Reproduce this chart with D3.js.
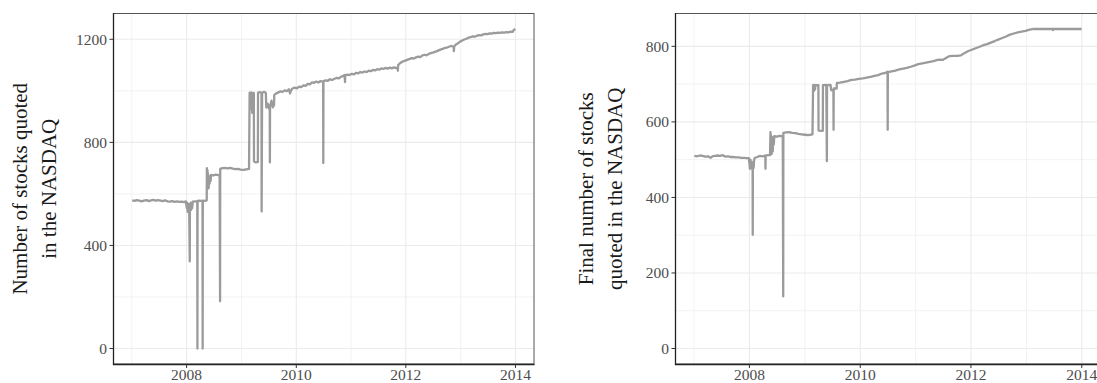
<!DOCTYPE html>
<html>
<head>
<meta charset="utf-8">
<script src="https://cdn.jsdelivr.net/npm/d3@7"></script>
<style>
  html, body { margin: 0; padding: 0; background: #fff; }
  svg { display: block; }
  .tick-label { font-family: "Liberation Serif", serif; font-size: 15.5px; fill: #4d4d4d; }
  .axis-title { font-family: "Liberation Serif", serif; font-size: 21px; fill: #1a1a1a; }
</style>
</head>
<body>
<svg id="chart" width="1097" height="383"></svg>
<script>
// Daily number of stocks quoted on the NASDAQ (left panel)
const quotedDaily = [
["2007-01-03",575],["2007-01-19",573],["2007-02-02",576],["2007-02-20",574],["2007-03-07",571],["2007-03-22",574],["2007-04-09",576],["2007-04-24",572],["2007-05-09",575],["2007-05-24",577],["2007-06-08",574],["2007-06-25",576],["2007-07-11",574],["2007-07-26",572],["2007-08-10",575],["2007-08-27",571],["2007-09-12",570],["2007-09-27",572],["2007-10-12",569],["2007-10-29",571],["2007-11-13",569],["2007-11-29",570],["2007-12-14",568],["2007-12-27",571],
["2008-01-02",545],["2008-01-04",566],["2008-01-08",530],["2008-01-10",562],["2008-01-14",540],["2008-01-16",560],["2008-01-18",548],["2008-01-22",338],["2008-01-23",552],["2008-01-28",566],["2008-01-31",538],["2008-02-04",560],["2008-02-07",545],["2008-02-11",570],["2008-02-25",571],["2008-03-12",572],["2008-03-13",0],["2008-03-14",573],["2008-03-28",574],["2008-04-16",572],["2008-04-17",0],["2008-04-18",574],["2008-05-02",573],["2008-05-14",575],["2008-05-15",700],["2008-05-16",640],["2008-05-19",692],["2008-05-20",628],["2008-05-22",680],["2008-05-27",622],["2008-05-29",670],["2008-06-02",640],["2008-06-05",666],["2008-06-09",650],["2008-06-12",674],["2008-06-26",672],["2008-07-14",675],["2008-07-29",673],["2008-08-08",674],["2008-08-11",183],["2008-08-12",697],["2008-08-26",700],["2008-09-12",701],["2008-09-30",699],["2008-10-17",701],["2008-11-04",698],["2008-11-21",696],["2008-12-09",697],["2008-12-26",694],["2009-01-14",693],["2009-02-02",695],["2009-02-20",697],
["2009-02-24",993],["2009-03-02",986],["2009-03-04",930],["2009-03-06",994],["2009-03-11",992],["2009-03-13",915],["2009-03-17",990],["2009-03-24",992],["2009-03-25",726],["2009-04-07",722],["2009-04-20",724],["2009-04-21",993],["2009-05-04",995],["2009-05-14",991],["2009-05-15",532],["2009-05-18",993],["2009-06-02",996],["2009-06-12",992],["2009-06-15",935],["2009-06-24",950],["2009-07-02",932],["2009-07-08",944],["2009-07-09",722],["2009-07-10",940],["2009-07-20",962],["2009-07-28",936],["2009-08-06",945],["2009-08-07",984],["2009-08-21",990],["2009-09-04",994],["2009-09-18",998],["2009-10-02",996],["2009-10-16",1002],["2009-10-30",999],["2009-11-13",1006],["2009-11-20",990],["2009-11-25",998],["2009-12-04",1008],["2009-12-18",1012],
["2010-01-05",1010],["2010-01-20",1016],["2010-02-03",1014],["2010-02-18",1021],["2010-03-04",1019],["2010-03-18",1027],["2010-04-01",1025],["2010-04-16",1033],["2010-04-30",1031],["2010-05-14",1036],["2010-05-28",1032],["2010-06-11",1038],["2010-06-29",1036],["2010-06-30",720],["2010-07-01",1037],["2010-07-16",1041],["2010-07-30",1039],["2010-08-13",1045],["2010-08-27",1042],["2010-09-13",1047],["2010-09-27",1050],["2010-10-11",1048],["2010-10-25",1054],["2010-11-08",1057],["2010-11-19",1062],["2010-11-22",1034],["2010-11-23",1060],["2010-12-07",1063],["2010-12-21",1061],
["2011-01-06",1066],["2011-01-21",1064],["2011-02-04",1070],["2011-02-18",1068],["2011-03-04",1073],["2011-03-18",1071],["2011-04-01",1075],["2011-04-15",1073],["2011-04-29",1078],["2011-05-13",1076],["2011-05-27",1081],["2011-06-10",1079],["2011-06-24",1084],["2011-07-08",1082],["2011-07-22",1087],["2011-08-05",1085],["2011-08-19",1089],["2011-09-02",1086],["2011-09-16",1090],["2011-09-30",1087],["2011-10-14",1091],["2011-10-28",1088],["2011-11-08",1090],["2011-11-09",1078],["2011-11-11",1100],["2011-11-25",1108],["2011-12-09",1113],["2011-12-23",1116],
["2012-01-10",1120],["2012-01-27",1124],["2012-02-10",1127],["2012-02-24",1125],["2012-03-09",1130],["2012-03-23",1133],["2012-04-06",1131],["2012-04-20",1137],["2012-05-04",1140],["2012-05-18",1138],["2012-06-01",1143],["2012-06-15",1146],["2012-06-29",1148],["2012-07-13",1151],["2012-07-27",1154],["2012-08-10",1158],["2012-08-24",1161],["2012-09-07",1164],["2012-09-21",1167],["2012-10-05",1169],["2012-10-19",1172],["2012-11-02",1174],["2012-11-15",1171],["2012-11-16",1154],["2012-11-19",1173],["2012-11-30",1180],["2012-12-14",1185],["2012-12-28",1191],
["2013-01-11",1195],["2013-01-25",1199],["2013-02-08",1202],["2013-02-22",1206],["2013-03-08",1208],["2013-03-22",1211],["2013-04-05",1210],["2013-04-19",1214],["2013-05-03",1216],["2013-05-17",1215],["2013-05-31",1219],["2013-06-14",1221],["2013-06-28",1220],["2013-07-12",1223],["2013-07-26",1222],["2013-08-09",1225],["2013-08-23",1224],["2013-09-06",1226],["2013-09-20",1225],["2013-10-04",1227],["2013-10-18",1226],["2013-11-01",1228],["2013-11-15",1227],["2013-11-29",1230],["2013-12-13",1229],["2013-12-20",1236],["2013-12-31",1240]
];

// Final number of stocks quoted on the NASDAQ (right panel)
const finalQuoted = [
["2007-01-03",510],["2007-01-22",509],["2007-02-08",511],["2007-02-27",510],["2007-03-15",508],["2007-04-03",509],["2007-04-20",505],["2007-05-02",509],["2007-05-18",510],["2007-06-05",511],["2007-06-22",510],["2007-07-10",512],["2007-07-27",508],["2007-08-14",509],["2007-08-31",507],["2007-09-18",507],["2007-10-05",506],["2007-10-23",506],["2007-11-09",505],["2007-11-28",505],["2007-12-14",504],["2007-12-28",504],
["2008-01-02",488],["2008-01-04",476],["2008-01-08",500],["2008-01-11",477],["2008-01-15",495],["2008-01-18",480],["2008-01-22",492],["2008-01-23",301],["2008-01-24",493],["2008-01-29",478],["2008-02-01",500],["2008-02-06",505],["2008-02-22",507],["2008-03-11",510],["2008-03-28",509],["2008-04-15",511],["2008-04-16",476],["2008-04-17",511],["2008-05-02",512],["2008-05-16",512],["2008-05-19",573],["2008-05-20",518],["2008-05-22",565],["2008-05-27",515],["2008-05-29",560],["2008-06-03",522],["2008-06-06",558],["2008-06-10",540],["2008-06-13",562],["2008-06-30",561],["2008-07-17",563],["2008-08-08",562],["2008-08-11",138],["2008-08-12",571],["2008-08-29",572],["2008-09-19",573],["2008-10-09",571],["2008-10-30",570],["2008-11-19",568],["2008-12-10",567],["2009-01-02",566],["2009-01-23",565],["2009-02-20",567],
["2009-02-24",697],["2009-03-02",682],["2009-03-04",698],["2009-03-09",686],["2009-03-11",697],["2009-03-31",697],["2009-04-01",577],["2009-04-29",576],["2009-04-30",697],["2009-05-22",698],["2009-05-26",496],["2009-05-27",697],["2009-06-19",698],["2009-06-23",684],["2009-07-08",683],["2009-07-09",579],["2009-07-10",689],["2009-07-29",688],["2009-07-31",703],["2009-08-20",704],["2009-09-15",706],["2009-10-09",708],["2009-11-03",711],["2009-11-27",712],["2009-12-22",714],
["2010-01-19",715],["2010-02-12",717],["2010-03-10",719],["2010-04-05",722],["2010-04-29",724],["2010-05-24",728],["2010-06-17",730],["2010-06-30",733],["2010-07-01",579],["2010-07-02",732],["2010-07-27",734],["2010-08-20",736],["2010-09-15",739],["2010-10-11",741],["2010-11-04",743],["2010-11-30",746],["2010-12-23",749],
["2011-01-19",753],["2011-02-14",755],["2011-03-10",757],["2011-04-05",759],["2011-04-29",761],["2011-05-25",764],["2011-06-15",765],["2011-06-28",764],["2011-07-12",767],["2011-08-10",774],["2011-09-06",775],["2011-10-03",775],["2011-10-27",776],["2011-11-18",782],["2011-12-12",787],
["2012-01-06",791],["2012-02-01",795],["2012-02-27",799],["2012-03-22",803],["2012-04-17",806],["2012-05-11",810],["2012-06-06",814],["2012-06-29",818],["2012-07-25",822],["2012-08-20",826],["2012-09-14",831],["2012-10-10",834],["2012-11-05",837],["2012-11-30",839],["2012-12-26",841],
["2013-01-22",844],["2013-02-18",846],["2013-04-15",846],["2013-06-24",846],["2013-06-25",843],["2013-06-26",846],["2013-09-03",846],["2013-11-05",846],["2013-12-31",846]
];

const yearTicksMajor = [2008, 2010, 2012, 2014];
const yearTicksMinor = [2007, 2009, 2011, 2013];
const leftTicksMajor = [0, 400, 800, 1200];
const leftTicksMinor = [200, 600, 1000];
const rightTicksMajor = [0, 200, 400, 600, 800];
const rightTicksMinor = [100, 300, 500, 700];
const leftTitle = ["Number of stocks quoted", "in the NASDAQ"];
const rightTitle = ["Final number of stocks", "quoted in the NASDAQ"];

const parse = d3.timeParse("%Y-%m-%d");
const svg = d3.select("#chart");
const panelTop = 13, panelBottom = 364.5;

function panel(opts) {
  const data = opts.data.map(d => ({ date: parse(d[0]), value: d[1] }));
  const ext = d3.extent(data, d => d.date);
  const span = ext[1] - ext[0];
  const x = d3.scaleTime()
    .domain([new Date(+ext[0] - span * 0.05), new Date(+ext[1] + span * 0.05)])
    .range([opts.left, opts.right]);
  const vmax = d3.max(data, d => d.value);
  const y = d3.scaleLinear()
    .domain([-vmax * 0.05, vmax * 1.05])
    .range([panelBottom, panelTop]);

  const g = svg.append("g");
  const clipId = "clip-" + opts.id;
  svg.append("clipPath").attr("id", clipId)
    .append("rect").attr("x", opts.left).attr("y", panelTop)
    .attr("width", opts.right - opts.left).attr("height", panelBottom - panelTop);

  const yr = v => new Date(v, 0, 1);

  // grid lines
  const grid = g.append("g").attr("clip-path", `url(#${clipId})`);
  grid.selectAll(".ymin").data(opts.minorY).join("line")
    .attr("x1", opts.left).attr("x2", opts.right)
    .attr("y1", d => y(d)).attr("y2", d => y(d))
    .attr("stroke", "#efefef").attr("stroke-width", 0.8);
  grid.selectAll(".xmin").data(yearTicksMinor).join("line")
    .attr("x1", d => x(yr(d))).attr("x2", d => x(yr(d)))
    .attr("y1", panelTop).attr("y2", panelBottom)
    .attr("stroke", "#efefef").attr("stroke-width", 0.8);
  grid.selectAll(".ymaj").data(opts.majorY).join("line")
    .attr("x1", opts.left).attr("x2", opts.right)
    .attr("y1", d => y(d)).attr("y2", d => y(d))
    .attr("stroke", "#ebebeb").attr("stroke-width", 1.1);
  grid.selectAll(".xmaj").data(yearTicksMajor).join("line")
    .attr("x1", d => x(yr(d))).attr("x2", d => x(yr(d)))
    .attr("y1", panelTop).attr("y2", panelBottom)
    .attr("stroke", "#ebebeb").attr("stroke-width", 1.1);

  // series
  const line = d3.line().x(d => x(d.date)).y(d => y(d.value));
  g.append("path").datum(data)
    .attr("clip-path", `url(#${clipId})`)
    .attr("d", line)
    .attr("fill", "none")
    .attr("stroke", "#9b9b9b")
    .attr("stroke-width", 2.3)
    .attr("stroke-linejoin", "round");

  // panel border
  g.append("rect")
    .attr("x", opts.left + 0.5).attr("y", panelTop + 0.5)
    .attr("width", opts.right - opts.left - 1).attr("height", panelBottom - panelTop - 1)
    .attr("fill", "none").attr("stroke", "#555").attr("stroke-width", 1);
  g.append("line").attr("x1", opts.left + 0.5).attr("x2", opts.left + 0.5)
    .attr("y1", panelTop).attr("y2", panelBottom + 0.5).attr("stroke", "#222").attr("stroke-width", 1.3);
  g.append("line").attr("x1", opts.left).attr("x2", opts.right)
    .attr("y1", panelBottom).attr("y2", panelBottom).attr("stroke", "#222").attr("stroke-width", 1.3);

  // y ticks and labels
  g.selectAll(".yt").data(opts.majorY).join("line")
    .attr("x1", opts.left - 3.5).attr("x2", opts.left)
    .attr("y1", d => y(d)).attr("y2", d => y(d))
    .attr("stroke", "#333").attr("stroke-width", 1);
  g.selectAll(".yl").data(opts.majorY).join("text")
    .attr("class", "tick-label")
    .attr("x", opts.left - 6).attr("y", d => y(d)).attr("dy", "0.34em")
    .attr("text-anchor", "end").text(d => d);

  // x ticks and labels
  g.selectAll(".xt").data(yearTicksMajor).join("line")
    .attr("x1", d => x(yr(d))).attr("x2", d => x(yr(d)))
    .attr("y1", panelBottom).attr("y2", panelBottom + 3.5)
    .attr("stroke", "#333").attr("stroke-width", 1);
  g.selectAll(".xl").data(yearTicksMajor).join("text")
    .attr("class", "tick-label")
    .attr("x", d => x(yr(d))).attr("y", 380)
    .attr("text-anchor", "middle").text(d => d);

  // axis title (two lines, rotated)
  const mid = (panelTop + panelBottom) / 2;
  opts.title.forEach((t, i) => {
    svg.append("text").attr("class", "axis-title")
      .attr("transform", `translate(${opts.titleX + i * 28.5},${mid}) rotate(-90)`)
      .attr("text-anchor", "middle").text(t);
  });
}

panel({ id: "left", data: quotedDaily, left: 113, right: 534.5,
  majorY: leftTicksMajor, minorY: leftTicksMinor, title: leftTitle, titleX: 27 });
panel({ id: "right", data: finalQuoted, left: 675, right: 1101,
  majorY: rightTicksMajor, minorY: rightTicksMinor, title: rightTitle, titleX: 593 });
</script>
</body>
</html>
